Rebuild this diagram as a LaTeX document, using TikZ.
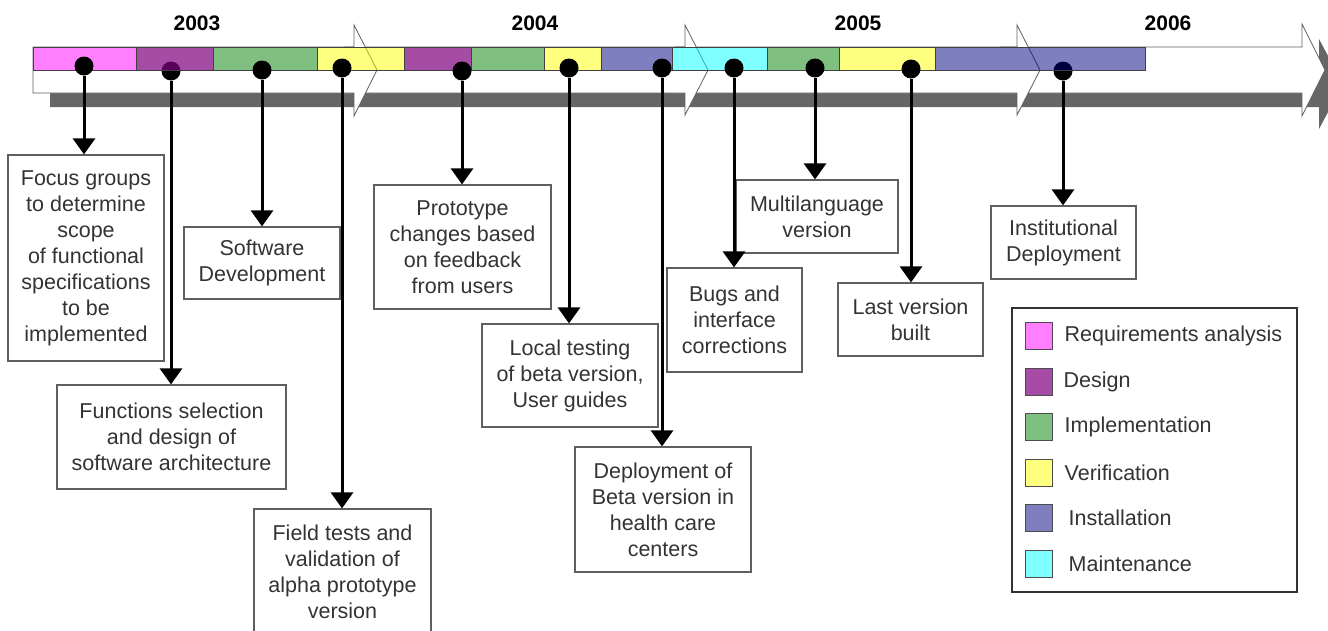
\documentclass[tikz,border=0pt]{standalone}
\usepackage{fontspec}
\setmainfont{Liberation Sans}
\usetikzlibrary{arrows.meta, positioning}
\usepackage{xcolor}

\definecolor{reqcol}{RGB}{255,0,255}
\definecolor{descol}{RGB}{128,0,128}
\definecolor{impcol}{RGB}{0,128,0}
\definecolor{vercol}{RGB}{255,255,0}
\definecolor{inscol}{RGB}{0,0,128}
\definecolor{maicol}{RGB}{0,255,255}
\definecolor{edgecol}{RGB}{95,95,95}
\definecolor{shadowcol}{RGB}{102,102,102}

\begin{document}
\begin{tikzpicture}[
x=1pt, y=-1pt,
box/.style={draw=edgecol,
rectangle,
line width=1.2pt,
align=center,
inner sep=2pt,
text=black!80,
font=\fontsize{21.5}{26}\selectfont},
dot/.style={circle, fill=black, minimum size=19pt, inner sep=0pt},
arrow/.style={-{Triangle[width=22pt,length=16pt]}, line width=3pt},
phase/.style={draw=black!75, line width=0.8pt, fill opacity=0.5},
yeararrow/.style={draw=edgecol, line width=0.8pt, fill=white},
year/.style={font=\fontsize{21}{25}\selectfont\bfseries},
key/.style={draw=black!70, line width=1pt, minimum size=27pt, inner sep=0pt, fill opacity=0.5},
keytext/.style={font=\fontsize{21.5}{26}\selectfont, text=black!80, inner sep=0pt}
]
\useasboundingbox (0,0) rectangle (1328,630);

% shadow and year arrows
\fill[shadowcol] (50,61) -- (1319,61) -- (1319,39) -- (1343,84) -- (1319,129) -- (1319,107) -- (50,107) -- cycle;
\draw[yeararrow] (1000,47) -- (1302,47) -- (1302,24) -- (1325,70) -- (1302,116) -- (1302,93) -- (1000,93) -- cycle;
\draw[yeararrow] (675,47) -- (1017,47) -- (1017,25) -- (1040,70) -- (1017,115) -- (1017,93) -- (675,93) -- cycle;
\draw[yeararrow] (345,47) -- (685,47) -- (685,25) -- (708,70) -- (685,115) -- (685,93) -- (345,93) -- cycle;
\draw[yeararrow] (33,47) -- (354,47) -- (354,25) -- (377,70) -- (354,116) -- (354,93) -- (33,93) -- cycle;

\node[year] (y2003) at (197,23) {2003};
\node[year] (y2004) at (535,23) {2004};
\node[year] (y2005) at (858,23) {2005};
\node[year] (y2006) at (1168,23) {2006};

% dots lying under the bar
\node[dot] (dfuncsel) at (171,71) {};
\node[dot] (dinstdeploy) at (1063,71) {};

% phases
\draw[phase, fill=reqcol] (33,47) rectangle (136,70);
\draw[phase, fill=descol, fill opacity=0.7] (136,47) rectangle (213,70);
\draw[phase, fill=impcol] (213,47) rectangle (317,70);
\draw[phase, fill=vercol] (317,47) rectangle (404,70);
\draw[phase, fill=descol, fill opacity=0.7] (404,47) rectangle (471,70);
\draw[phase, fill=impcol] (471,47) rectangle (544,70);
\draw[phase, fill=vercol] (544,47) rectangle (601,70);
\draw[phase, fill=inscol] (601,47) rectangle (672,70);
\draw[phase, fill=maicol] (672,47) rectangle (767,70);
\draw[phase, fill=impcol] (767,47) rectangle (839,70);
\draw[phase, fill=vercol] (839,47) rectangle (935,70);
\draw[phase, fill=inscol] (935,47) rectangle (1145,70);

\node[dot] (dfocus) at (84,66) {};
\node[dot] (dsoftdev) at (262,70) {};
\node[dot] (dfieldtest) at (342,68) {};
\node[dot] (dproto) at (462,71) {};
\node[dot] (dlocaltest) at (569,68) {};
\node[dot] (dbetadeploy) at (662,68) {};
\node[dot] (dbugfix) at (734,68) {};
\node[dot] (dmultilang) at (815,68) {};
\node[dot] (dlastver) at (911,69) {};

% milestones
\node[box, minimum width=156pt, minimum height=206pt] (focus) at (86,258) {Focus groups\\to determine\\scope\\of functional\\specifications\\to be\\implemented};
\node[box, minimum width=229pt, minimum height=104pt] (funcsel) at (171.5,437) {Functions selection\\and design of\\software architecture};
\node[box, minimum width=156pt, minimum height=72pt] (softdev) at (262,263) {Software\\Development};
\node[box, minimum width=177pt, minimum height=126pt] (fieldtest) at (342.5,572) {Field tests and\\validation of\\alpha prototype\\version};
\node[box, minimum width=177pt, minimum height=124pt] (proto) at (462.5,247) {Prototype\\changes based\\on feedback\\from users};
\node[box, minimum width=176pt, minimum height=103pt] (localtest) at (570,375.5) {Local testing\\of beta version,\\User guides};
\node[box, minimum width=176pt, minimum height=125pt] (betadeploy) at (663,509.5) {Deployment of\\Beta version in\\health care\\centers};
\node[box, minimum width=135pt, minimum height=104pt] (bugfix) at (734.5,320) {Bugs and\\interface\\corrections};
\node[box, minimum width=162pt, minimum height=73pt] (multilang) at (817,216.5) {Multilanguage\\version};
\node[box, minimum width=145pt, minimum height=73pt] (lastver) at (910.5,319.5) {Last version\\built};
\node[box, minimum width=145pt, minimum height=73pt] (instdeploy) at (1063.5,242.5) {Institutional\\Deployment};

\draw[arrow] (dfocus) -- (dfocus |- focus.north);
\draw[arrow] (dfuncsel) -- (dfuncsel |- funcsel.north);
\draw[arrow] (dsoftdev) -- (dsoftdev |- softdev.north);
\draw[arrow] (dfieldtest) -- (dfieldtest |- fieldtest.north);
\draw[arrow] (dproto) -- (dproto |- proto.north);
\draw[arrow] (dlocaltest) -- (dlocaltest |- localtest.north);
\draw[arrow] (dbetadeploy) -- (dbetadeploy |- betadeploy.north);
\draw[arrow] (dbugfix) -- (dbugfix |- bugfix.north);
\draw[arrow] (dmultilang) -- (dmultilang |- multilang.north);
\draw[arrow] (dlastver) -- (dlastver |- lastver.north);
\draw[arrow] (dinstdeploy) -- (dinstdeploy |- instdeploy.north);

% legend
\node[draw=black!80, line width=1.2pt, minimum width=285pt, minimum height=284pt] (legend) at (1154.5,450) {};
\node[key, fill=reqcol] (kreq) at (1038.5,336) {};
\node[key, fill=descol, fill opacity=0.7, below=17.5pt of kreq] (kdes) {};
\node[key, fill=impcol, below=17.5pt of kdes] (kimp) {};
\node[key, fill=vercol, below=17.5pt of kimp] (kver) {};
\node[key, fill=inscol, below=17.5pt of kver] (kins) {};
\node[key, fill=maicol, below=17.5pt of kins] (kmai) {};
\node[keytext, right=12pt of kreq] (treq) {Requirements analysis};
\node[keytext, right=11pt of kdes] (tdes) {Design};
\node[keytext, right=12pt of kimp] (timp) {Implementation};
\node[keytext, right=12pt of kver] (tver) {Verification};
\node[keytext, right=16pt of kins] (tins) {Installation};
\node[keytext, right=16pt of kmai] (tmai) {Maintenance};

\end{tikzpicture}
\end{document}
